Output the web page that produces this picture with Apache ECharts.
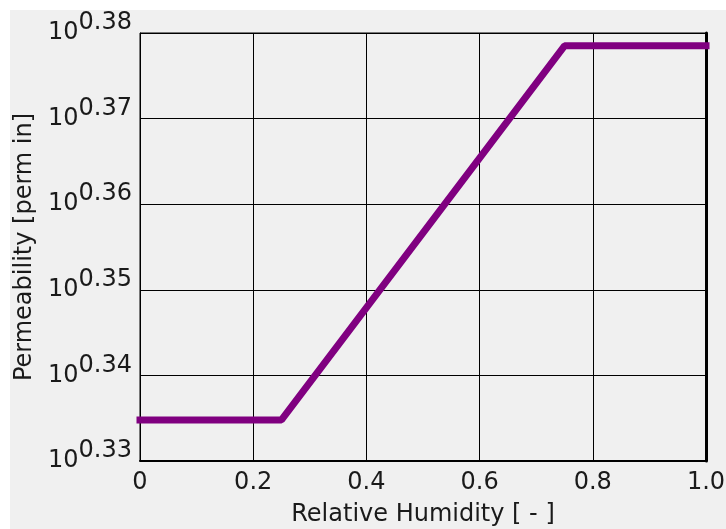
<!DOCTYPE html>
<html lang="en">
<head>
    <meta charset="UTF-8">
    <title>Permeability</title>
    <style>
        html, body { margin: 0; padding: 0; background: #ffffff; }
        #chart { width: 726px; height: 529px; }
    </style>
</head>
<body>
<div id="chart"></div>
<script src="https://cdn.jsdelivr.net/npm/echarts@6/dist/echarts.min.js"></script>
<script>
    // relative humidity [-]
    var humidity = [0, 0.25, 0.75, 1.0];
    // permeability exponent (log10 of perm in)
    var permExp = [0.3348, 0.3348, 0.3785, 0.3785];
    var xTicks = ['0', '0.2', '0.4', '0.6', '0.8', '1.0'];

    var font = 'DejaVu Sans, sans-serif';
    var myChart = echarts.init(document.getElementById('chart'));

    var points = humidity.map(function (h, i) { return [h, permExp[i]]; });

    var option = {
        backgroundColor: 'transparent',
        animation: false,
        graphic: [{
            type: 'rect',
            left: 10, top: 10,
            shape: { width: 716, height: 519 },
            style: { fill: '#f0f0f0' },
            z: -10
        }],
        grid: {
            left: 140, right: 20, top: 33, bottom: 68,
            outerBoundsMode: 'none',
            show: true, borderColor: '#000', borderWidth: 1,
            backgroundColor: 'transparent'
        },
        xAxis: {
            type: 'value', min: 0, max: 1, interval: 0.2,
            name: 'Relative Humidity [ - ]',
            nameLocation: 'middle', nameGap: 42,
            nameTextStyle: { fontFamily: font, fontSize: 24, color: '#1a1a1a' },
            axisLine: { lineStyle: { color: '#000', width: 2 } },
            axisTick: { show: false },
            splitLine: { lineStyle: { color: '#000', width: 1 } },
            axisLabel: {
                fontFamily: font, fontSize: 24, color: '#1a1a1a', margin: 10,
                formatter: function (v) { return xTicks[Math.round(v / 0.2)]; }
            }
        },
        yAxis: [{
            type: 'value', min: 0.33, max: 0.38, interval: 0.01,
            name: 'Permeability [perm in]',
            nameLocation: 'middle', nameGap: 101,
            nameTextStyle: { fontFamily: font, fontSize: 24, color: '#1a1a1a' },
            axisLine: { show: true, lineStyle: { color: '#000', width: 1 } },
            axisTick: { show: false },
            splitLine: { lineStyle: { color: '#000', width: 1 } },
            axisLabel: {
                margin: 8,
                formatter: function (v) { return '{b|10}{s|' + v.toFixed(2) + '}'; },
                rich: {
                    b: { fontFamily: font, fontSize: 24, color: '#1a1a1a', lineHeight: 24, padding: [10, 0, 10, 0] },
                    s: { fontFamily: font, fontSize: 24, color: '#1a1a1a', lineHeight: 24, padding: [0, 0, 20, 0] }
                }
            }
        }, {
            type: 'value', min: 0.33, max: 0.38, interval: 0.01, position: 'right',
            axisLine: { show: true, lineStyle: { color: '#000', width: 3 } },
            axisTick: { show: false }, axisLabel: { show: false }, splitLine: { show: false }
        }],
        series: [{
            type: 'line',
            data: points,
            showSymbol: false,
            clip: false,
            lineStyle: { color: '#800080', width: 7, cap: 'square' }
        }]
    };
    myChart.setOption(option);
</script>
</body>
</html>
